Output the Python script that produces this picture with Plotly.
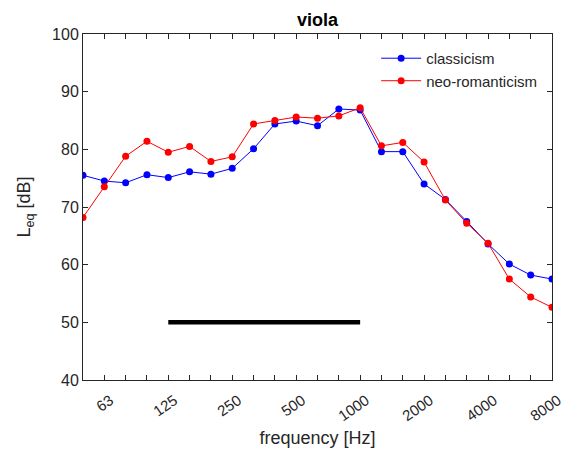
import plotly.graph_objects as go

bands = ["50", "63", "80", "100", "125", "160", "200", "250", "315", "400", "500", "630",
         "800", "1000", "1250", "1600", "2000", "2500", "3150", "4000", "5000", "6300", "8000"]
tick_labels = ["63", "125", "250", "500", "1000", "2000", "4000", "8000"]

classicism = [75.5, 74.5, 74.2, 75.6, 75.1, 76.1, 75.7, 76.7, 80.1, 84.4, 84.9, 84.1,
              87.0, 86.8, 79.6, 79.6, 74.0, 71.3, 67.5, 63.6, 60.1, 58.2, 57.5]
neo_romanticism = [68.2, 73.5, 78.8, 81.4, 79.5, 80.5, 77.9, 78.7, 84.4, 85.0, 85.6, 85.4,
                   85.8, 87.2, 80.6, 81.2, 77.8, 71.2, 67.2, 63.7, 57.5, 54.4, 52.6]

bar_bands = ["125", "1000"]
bar_level = 50

FONT = "Liberation Sans, Arial, sans-serif"
idx = list(range(len(bands)))

fig = go.Figure()
fig.add_trace(go.Scatter(x=idx, y=classicism, mode="lines+markers", name="classicism",
                         line=dict(color="#0000ff", width=1),
                         marker=dict(color="#0000ff", size=7)))
fig.add_trace(go.Scatter(x=idx, y=neo_romanticism, mode="lines+markers", name="neo-romanticism",
                         line=dict(color="#ff0000", width=1),
                         marker=dict(color="#ff0000", size=7)))
fig.add_trace(go.Scatter(x=[bands.index(b) for b in bar_bands], y=[bar_level] * len(bar_bands),
                         mode="lines", line=dict(color="black", width=4.5), showlegend=False))

major_vals = [bands.index(t) for t in tick_labels]

axis_common = dict(showline=True, linecolor="#262626", linewidth=1, mirror="ticks",
                   ticks="inside", ticklen=5, tickcolor="#262626", showgrid=False,
                   zeroline=False, automargin=False)

fig.update_layout(
    width=565, height=455,
    margin=dict(l=83, r=13, t=34, b=75),
    paper_bgcolor="white", plot_bgcolor="white",
    title=dict(text="<b>viola</b>", x=0.562, xanchor="center", y=0.956, yanchor="middle",
               font=dict(family=FONT, size=18, color="black")),
    xaxis=dict(range=[0, len(bands) - 1], tickmode="array", tickvals=major_vals, ticktext=tick_labels,
               tickangle=-35, ticklabelshift=6, ticklabelstandoff=5, ticklabeloverflow="allow",
               tickfont=dict(family=FONT, size=15, color="#262626"),
               minor=dict(tickmode="array", tickvals=idx, ticks="inside", ticklen=5, tickcolor="#262626"),
               title=dict(text="frequency [Hz]", font=dict(family=FONT, size=18, color="#262626"),
                          standoff=8),
               **axis_common),
    yaxis=dict(range=[40, 100], tickmode="array", tickvals=[40, 50, 60, 70, 80, 90, 100],
               tickfont=dict(family=FONT, size=16, color="#262626"),
               title=dict(text="L<sub>eq</sub> [dB]", font=dict(family=FONT, size=18, color="#262626"),
                          standoff=16),
               **axis_common),
    legend=dict(x=0.625, y=0.977, xanchor="left", yanchor="top", bgcolor="rgba(0,0,0,0)",
                font=dict(family=FONT, size=15, color="#262626"), itemwidth=40, tracegroupgap=0),
    showlegend=True,
)

fig.write_html("out.html")
